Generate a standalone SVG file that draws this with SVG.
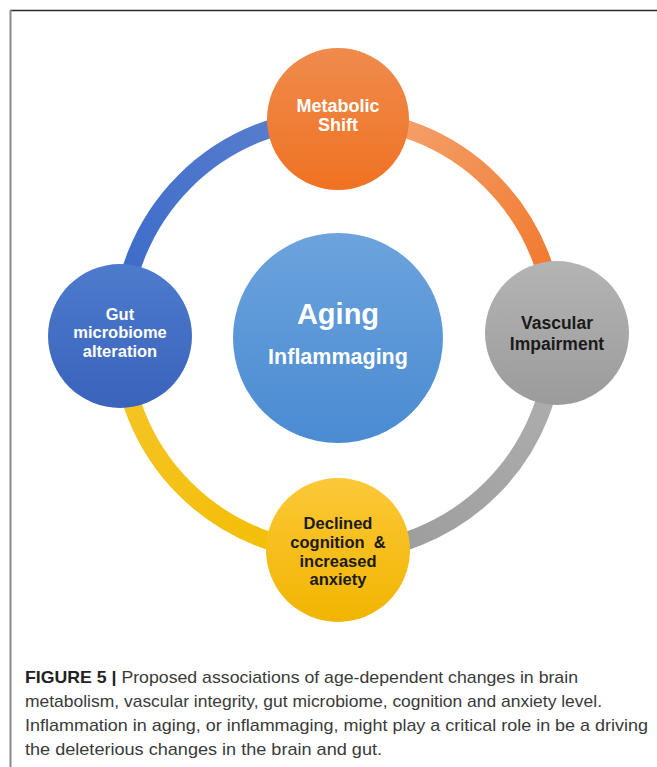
<svg xmlns="http://www.w3.org/2000/svg" width="657" height="767" viewBox="0 0 657 767">
<style>
.lbl{font-family:"Liberation Sans",Arial,sans-serif;font-weight:bold;text-anchor:middle}
.w{fill:#ffffff}
.k{fill:#1a1a1a}
.arc{fill:none;stroke-width:18}
.cap{font-family:"Liberation Sans",Arial,sans-serif;font-size:17px;fill:#3a3a3a}
</style>
<defs>
<linearGradient id="gOr" x1="0" y1="0" x2="0" y2="1"><stop offset="0" stop-color="#ef8b4d"/><stop offset="1" stop-color="#f07222"/></linearGradient>
<linearGradient id="gGr" x1="0" y1="0" x2="0" y2="1"><stop offset="0" stop-color="#b4b4b4"/><stop offset="1" stop-color="#9b9b9b"/></linearGradient>
<linearGradient id="gBl" x1="0" y1="0" x2="0" y2="1"><stop offset="0" stop-color="#4d7bcc"/><stop offset="1" stop-color="#3a63bb"/></linearGradient>
<linearGradient id="gYe" x1="0" y1="0" x2="0" y2="1"><stop offset="0" stop-color="#fcc838"/><stop offset="1" stop-color="#f1b500"/></linearGradient>
<linearGradient id="gCe" x1="0" y1="0" x2="0" y2="1"><stop offset="0" stop-color="#6ca3dd"/><stop offset="1" stop-color="#4a8bd2"/></linearGradient>
<linearGradient id="aBl" gradientUnits="userSpaceOnUse" x1="338" y1="118" x2="121" y2="335"><stop offset="0" stop-color="#5d80cf"/><stop offset="1" stop-color="#3769c8"/></linearGradient>
<linearGradient id="aOr" gradientUnits="userSpaceOnUse" x1="338" y1="118" x2="555" y2="335"><stop offset="0" stop-color="#f4a876"/><stop offset="1" stop-color="#f07121"/></linearGradient>
<linearGradient id="aGr" gradientUnits="userSpaceOnUse" x1="555" y1="335" x2="338" y2="552"><stop offset="0" stop-color="#b0b0b0"/><stop offset="1" stop-color="#9a9a9a"/></linearGradient>
<linearGradient id="aYe" gradientUnits="userSpaceOnUse" x1="338" y1="552" x2="121" y2="335"><stop offset="0" stop-color="#f2bd00"/><stop offset="1" stop-color="#f6c52a"/></linearGradient>
</defs>
<rect width="657" height="767" fill="#ffffff"/>
<g id="frame">
<line x1="10" y1="10.5" x2="657" y2="10.5" stroke="#2b2b2b" stroke-width="1.5"/>
<line x1="10.5" y1="10" x2="10.5" y2="767" stroke="#8a8a8a" stroke-width="2"/>
</g>
<g id="connectors">
<path class="arc" stroke="url(#aBl)" d="M121 335 A217 217 0 0 1 338 118"/>
<path class="arc" stroke="url(#aOr)" d="M338 118 A217 217 0 0 1 555 335"/>
<path class="arc" stroke="url(#aGr)" d="M555 335 A217 217 0 0 1 338 552"/>
<path class="arc" stroke="url(#aYe)" d="M338 552 A217 217 0 0 1 121 335"/>
</g>
<g id="center">
<circle cx="338" cy="338" r="105" fill="url(#gCe)"/>
<text class="lbl w" x="338" y="324" font-size="29">Aging</text>
<text class="lbl w" x="338" y="364" font-size="21.5">Inflammaging</text>
</g>
<g id="metabolic">
<circle cx="338" cy="119" r="71" fill="url(#gOr)"/>
<text class="lbl w" x="338" y="112" font-size="18">Metabolic</text>
<text class="lbl w" x="338" y="131" font-size="18">Shift</text>
</g>
<g id="vascular">
<circle cx="557" cy="333" r="72" fill="url(#gGr)"/>
<text class="lbl k" x="557" y="329" font-size="17.5">Vascular</text>
<text class="lbl k" x="557" y="350" font-size="17.5">Impairment</text>
</g>
<g id="cognition">
<circle cx="338" cy="550" r="72" fill="url(#gYe)"/>
<text class="lbl k" x="338" y="529" font-size="16.5">Declined</text>
<text class="lbl k" x="338" y="548" font-size="16.5" xml:space="preserve">cognition  &amp;</text>
<text class="lbl k" x="338" y="567" font-size="16.5">increased</text>
<text class="lbl k" x="338" y="585" font-size="16.5">anxiety</text>
</g>
<g id="gut">
<circle cx="120" cy="336" r="72" fill="url(#gBl)"/>
<text class="lbl w" x="120" y="320" font-size="16.5">Gut</text>
<text class="lbl w" x="120" y="338" font-size="16.5">microbiome</text>
<text class="lbl w" x="120" y="357" font-size="16.5">alteration</text>
</g>
<g id="caption">
<text class="cap" x="25" y="683" textLength="553" lengthAdjust="spacingAndGlyphs"><tspan font-weight="bold" fill="#222">FIGURE 5 |</tspan> Proposed associations of age-dependent changes in brain</text>
<text class="cap" x="25" y="707" textLength="577" lengthAdjust="spacingAndGlyphs">metabolism, vascular integrity, gut microbiome, cognition and anxiety level.</text>
<text class="cap" x="25" y="731" textLength="623" lengthAdjust="spacingAndGlyphs">Inflammation in aging, or inflammaging, might play a critical role in be a driving</text>
<text class="cap" x="25" y="755" textLength="357" lengthAdjust="spacingAndGlyphs">the deleterious changes in the brain and gut.</text>
</g>
</svg>
